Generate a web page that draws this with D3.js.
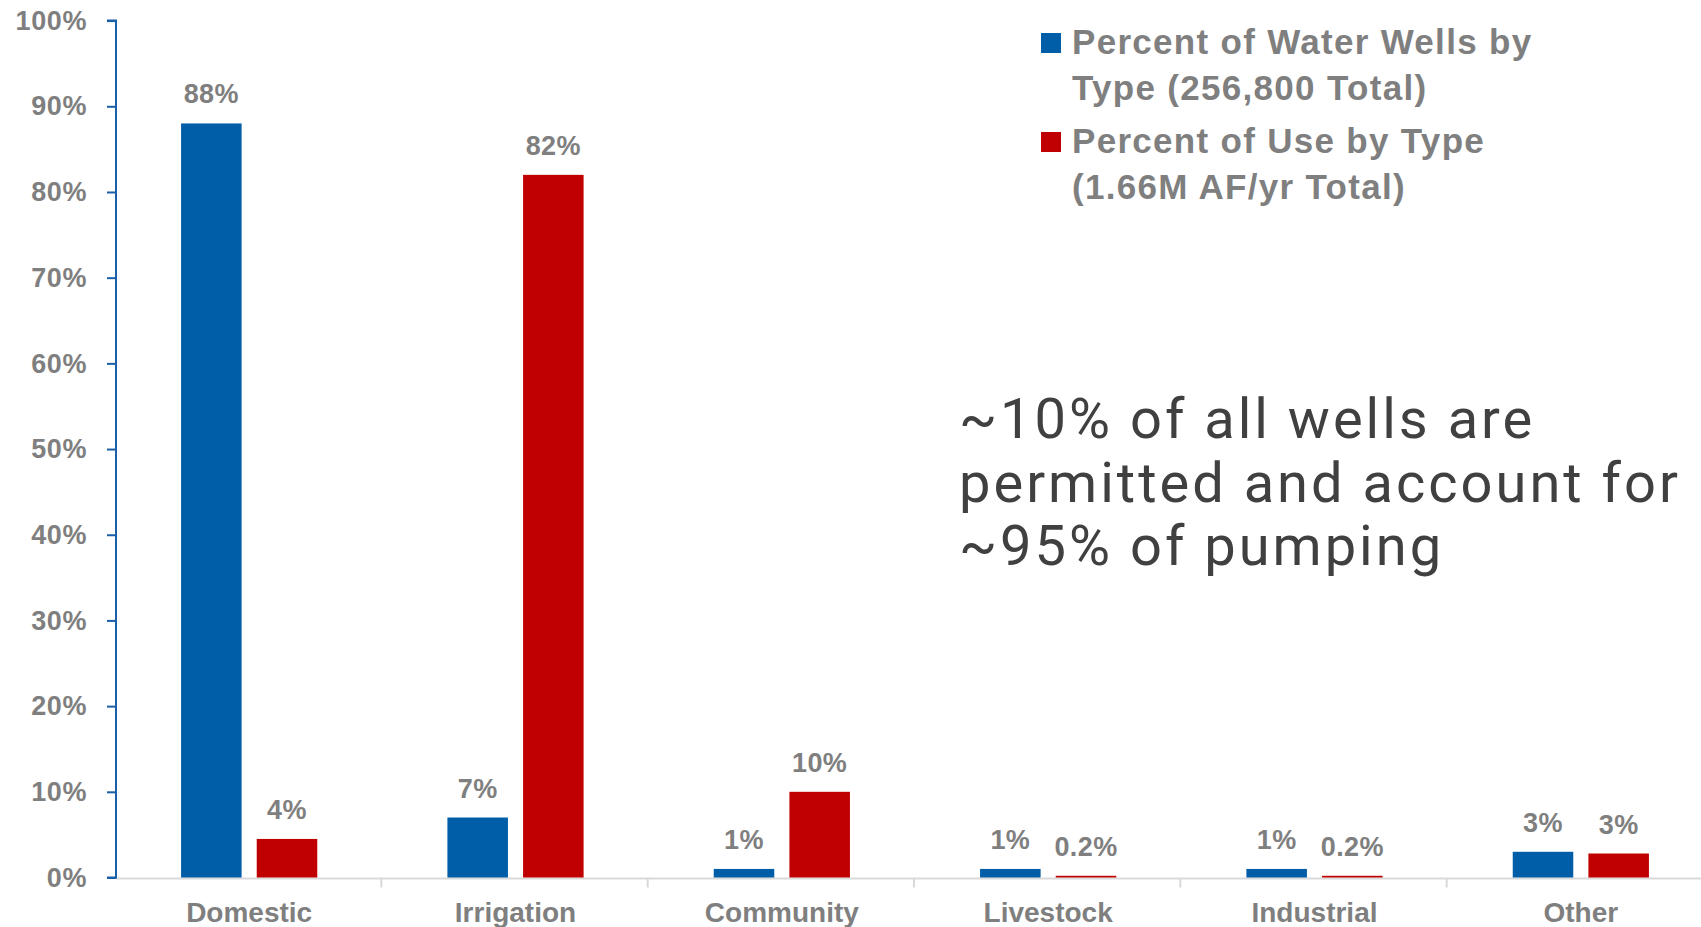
<!DOCTYPE html>
<html>
<head>
<meta charset="utf-8">
<script src="https://cdn.jsdelivr.net/npm/d3@7/dist/d3.min.js"></script>
<style>
  body { margin: 0; background: #fff; }
  svg { display: block; }
</style>
</head>
<body>
<svg id="chart" width="1701" height="927"></svg>
<script>
// categories and series
var categories = ['Domestic', 'Irrigation', 'Community', 'Livestock', 'Industrial', 'Other'];
var wellsPct = [88, 7, 1, 1, 1, 3];
var usePct = [4.5, 82, 10, 0.2, 0.2, 2.8];
var wellsLabels = ['88%', '7%', '1%', '1%', '1%', '3%'];
var useLabels = ['4%', '82%', '10%', '0.2%', '0.2%', '3%'];
var yTicks = [0, 10, 20, 30, 40, 50, 60, 70, 80, 90, 100];
var seriesNames = ['Percent of Water Wells by|Type (256,800 Total)', 'Percent of Use by Type|(1.66M AF/yr Total)'];
var note = ['~10% of all wells are', 'permitted and account for', '~95% of pumping'];

var blue = '#005da8', red = '#c00000', grey = '#7f7f7f';
var labelFont = '"Liberation Sans", Arial, sans-serif';

var svg = d3.select('#chart');
var x0 = 116, x1 = 1714, yTop = 20.6, yBot = 877.5;

var data = categories.map(function(c, i) {
    return {cat: c, vals: [
        {key: 'wells', value: wellsPct[i], label: wellsLabels[i]},
        {key: 'use', value: usePct[i], label: useLabels[i]}
    ]};
});

var xScale0 = d3.scaleBand().domain(categories).range([x0, x1]).padding(0);
var xScale1 = d3.scaleBand().domain(['wells', 'use'])
    .range([0, xScale0.bandwidth()])
    .paddingInner(0.2).paddingOuter(0.86);
var yScale = d3.scaleLinear().domain([0, 100]).range([yBot, yTop]);
var zScale = d3.scaleOrdinal().domain(['wells', 'use']).range([blue, red]);

// x axis: grey baseline with ticks at category boundaries
svg.append('line')
   .attr('x1', x0).attr('x2', 1701)
   .attr('y1', yBot + 1).attr('y2', yBot + 1)
   .attr('stroke', '#d9d9d9').attr('stroke-width', 2);

d3.range(1, categories.length + 1).forEach(function(i) {
    var xx = x0 + i * xScale0.step() - 1;
    svg.append('line')
       .attr('x1', xx).attr('x2', xx)
       .attr('y1', yBot + 1).attr('y2', yBot + 10)
       .attr('stroke', '#d9d9d9').attr('stroke-width', 2);
});

svg.append('g').selectAll('text')
   .data(categories)
   .enter().append('text')
   .attr('x', function(d) { return xScale0(d) + xScale0.bandwidth() / 2; })
   .attr('y', 922)
   .attr('text-anchor', 'middle')
   .attr('font-family', labelFont)
   .attr('font-weight', 'bold')
   .attr('font-size', '28px')
   .attr('fill', grey)
   .text(function(d) { return d; });

// y axis
var yAxis = d3.axisLeft(yScale)
    .tickValues(yTicks)
    .tickSize(9)
    .tickPadding(20)
    .tickFormat(function(d) { return d + '%'; });

var gy = svg.append('g')
   .attr('transform', 'translate(' + x0 + ',0)')
   .call(yAxis);
gy.select('.domain').attr('stroke', '#1a5fa8').attr('stroke-width', 2)
  .attr('d', 'M-9,' + yTop + 'H0V' + yBot + 'H-9');
gy.selectAll('.tick line').attr('stroke', '#1a5fa8').attr('stroke-width', 2);
gy.selectAll('.tick text')
  .attr('font-family', labelFont)
  .attr('font-weight', 'bold')
  .attr('font-size', '27px')
  .attr('letter-spacing', '0.6px')
  .attr('fill', grey);

// bars
var band = svg.append('g')
   .selectAll('g')
   .data(data)
   .enter().append('g')
   .attr('transform', function(d) { return 'translate(' + xScale0(d.cat) + ',0)'; });

band.selectAll('rect')
   .data(function(d) { return d.vals; })
   .enter().append('rect')
   .attr('x', function(d) { return xScale1(d.key); })
   .attr('y', function(d) { return yScale(d.value); })
   .attr('width', xScale1.bandwidth())
   .attr('height', function(d) { return yBot - yScale(d.value); })
   .attr('fill', function(d) { return zScale(d.key); });

band.selectAll('text')
   .data(function(d) { return d.vals; })
   .enter().append('text')
   .attr('x', function(d) { return xScale1(d.key) + xScale1.bandwidth() / 2; })
   .attr('y', function(d) { return yScale(d.value) - 20; })
   .attr('text-anchor', 'middle')
   .attr('font-family', labelFont)
   .attr('font-weight', 'bold')
   .attr('font-size', '27px')
   .attr('letter-spacing', '0.4px')
   .attr('fill', grey)
   .text(function(d) { return d.label; });

// legend
var legend = svg.append('g').selectAll('g')
   .data(seriesNames)
   .enter().append('g')
   .attr('transform', function(d, i) { return 'translate(1041,' + (33 + i * 99) + ')'; });

legend.append('rect')
   .attr('width', 20).attr('height', 20)
   .attr('fill', function(d, i) { return i == 0 ? blue : red; });

legend.each(function(d) {
    var t = d3.select(this).append('text')
       .attr('font-family', labelFont)
       .attr('font-weight', 'bold')
       .attr('font-size', '35px')
       .attr('letter-spacing', '1.3px')
       .attr('fill', grey);
    d.split('|').forEach(function(line, j) {
        t.append('tspan').attr('x', 31).attr('y', 21 + j * 46).text(line);
    });
});

// annotation
var ann = svg.append('text')
   .attr('font-family', 'Roboto, sans-serif')
   .attr('font-size', '56px')
   .attr('letter-spacing', '3px')
   .attr('fill', '#404040');
note.forEach(function(line, j) {
    ann.append('tspan').attr('x', 959).attr('y', 438 + j * 63.5).text(line);
});
</script>
</body>
</html>
